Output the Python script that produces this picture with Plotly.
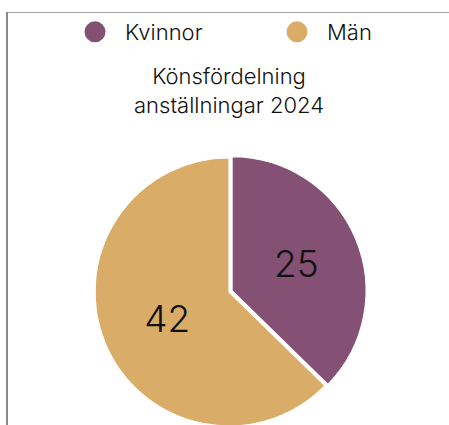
import plotly.graph_objects as go

labels = ["Kvinnor", "Män"]
values = [25, 42]
colors = ["#845073", "#D9AD67"]
title_text = "Könsfördelning<br>anställningar 2024"

W, H = 449, 440
FONT = "Inter"

fig = go.Figure()

fig.add_trace(go.Pie(
    labels=labels,
    values=values,
    sort=False,
    direction="clockwise",
    rotation=0,
    pull=[0.025, 0],
    marker=dict(colors=colors, line=dict(color="#ffffff", width=1.2)),
    texttemplate="%{value}",
    textposition="inside",
    insidetextorientation="horizontal",
    textfont=dict(family=FONT, size=37, color="#111111", weight=300),
    showlegend=False,
    hoverinfo="label+value",
    domain=dict(x=[91.65 / W, 366.35 / W], y=[1 - 429.35 / H, 1 - 154.65 / H]),
))

# legend entries (circle symbols), one legend per entry
legend_ids = ["legend", "legend2"]
for lab, col, lg in zip(labels, colors, legend_ids):
    fig.add_trace(go.Scatter(
        x=[None], y=[None], mode="markers", name=lab, legend=lg,
        marker=dict(symbol="circle", size=16, color=col,
                    line=dict(color=col, width=5)),
    ))

legend_style = dict(
    orientation="h",
    xanchor="left",
    y=1 - 11 / H, yanchor="top",
    font=dict(family=FONT, size=22, color="#111111", weight=300),
    itemwidth=50,
    bgcolor="rgba(0,0,0,0)",
)

fig.update_layout(
    width=W, height=H,
    margin=dict(l=0, r=0, t=0, b=0),
    paper_bgcolor="white",
    plot_bgcolor="white",
    font=dict(family=FONT, color="#111111", weight=300),
    xaxis=dict(visible=False),
    yaxis=dict(visible=False),
    legend=dict(x=65 / W, **legend_style),
    legend2=dict(x=267 / W, **legend_style),
    title=dict(
        text=title_text,
        x=229 / W, xanchor="center", xref="container",
        y=1 - 84 / H, yanchor="middle", yref="container",
        font=dict(family=FONT, size=22, color="#111111", weight=300),
    ),
    shapes=[
        dict(type="line", xref="paper", yref="paper",
             x0=7 / W, x1=1.05, y0=1 - 12.5 / H, y1=1 - 12.5 / H,
             line=dict(color="#a0a0a0", width=1)),
        dict(type="line", xref="paper", yref="paper",
             x0=7 / W, x1=7 / W, y0=1 - 12 / H, y1=-0.05,
             line=dict(color="#8a8a8a", width=2)),
    ],
)

fig.write_html(
    "out.html",
    config={"displayModeBar": False},
    post_script="document.body.style.margin='0';document.body.style.overflow='hidden';document.documentElement.style.overflow='hidden';",
)
